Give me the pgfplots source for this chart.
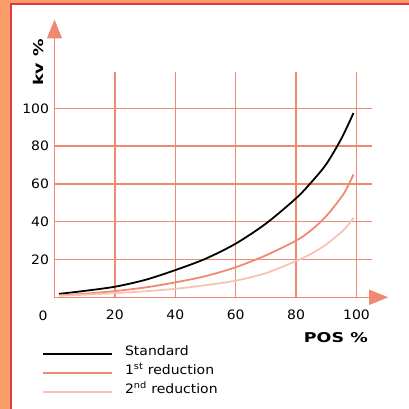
\documentclass[border=0pt]{standalone}
\usepackage{fontspec}
\setmainfont[FakeStretch=1.08]{DejaVu Sans}
\newfontfamily\labfont[FakeStretch=1.3]{DejaVu Sans Bold}
\usepackage{pgfplots}
\pgfplotsset{compat=1.18}
\usetikzlibrary{arrows.meta}
\definecolor{salmon}{HTML}{EE8A72}
\definecolor{light}{HTML}{F6C4B2}
\definecolor{border}{HTML}{F89C68}
\definecolor{redline}{HTML}{E4373F}
\begin{document}
\begin{tikzpicture}
\begin{axis}[
  x=3.02bp, y=1.89bp,
  xmin=0, xmax=105, ymin=0, ymax=119,
  axis line style={draw=none},
  clip=false,
  xtick={20,40,60,80,100},
  ytick={20,40,60,80,100},
  major tick length=0pt,
  grid=major,
  major grid style={salmon, line width=1.3bp},
  /pgf/number format/assume math mode=true,
  tick label style={font=\fontsize{13}{15}\selectfont, text=black},
  xticklabel style={yshift=-9.5bp},
  yticklabel style={xshift=-2bp},
]
\addplot[black, line width=1.8bp, smooth] coordinates {
 (1.5,1.8) (10,3.4) (20,5.6) (30,9.2) (40,14.4) (50,20.4) (60,28.4)
 (70,39.0) (80,52.4) (85,60.8) (90,70.5) (95,84.0) (99,97.5)};
\addplot[salmon, line width=1.8bp, smooth] coordinates {
 (1.5,1.0) (10,1.9) (20,3.3) (30,5.2) (40,7.9) (50,11.2) (60,15.9)
 (70,22.2) (80,30.0) (85,35.5) (90,43.0) (95,53.0) (97,58.3) (99,65.0)};
\addplot[light, line width=1.8bp, smooth] coordinates {
 (1.5,0.8) (10,1.4) (20,2.2) (30,3.2) (40,4.5) (50,6.4) (60,8.8)
 (70,12.8) (80,19.2) (85,23.0) (90,28.0) (95,34.5) (97,37.8) (99,42.1)};
% axes arrows
\draw[salmon, line width=1.3bp, -{Triangle[length=19bp,width=15bp]}] (axis cs:0,0) -- (axis cs:0,147);
\draw[salmon, line width=1.3bp, -{Triangle[length=19bp,width=15bp]}] (axis cs:0,0) -- (axis cs:110.5,0);
% zero tick label
\node[anchor=base, inner sep=0pt, font=\fontsize{13}{15}\selectfont] at (axis cs:-3.8,-12.5) {0};
% labels
\node[anchor=base east, inner sep=0pt, font=\labfont\fontsize{13.5}{15}\selectfont] at (axis cs:103.8,-24.0) {POS \%};
\node[anchor=base west, rotate=90, inner sep=0pt, font=\labfont\fontsize{13.5}{15}\selectfont] at (axis cs:-3.8,111.8) {kv \%};
% legend
\draw[black, line width=1.8bp] (axis cs:-3.8,-30.2) -- (axis cs:19,-30.2);
\draw[salmon, line width=1.8bp] (axis cs:-3.8,-40.2) -- (axis cs:19,-40.2);
\draw[light, line width=1.8bp] (axis cs:-3.8,-50.3) -- (axis cs:19,-50.3);
\node[anchor=base west, inner sep=0pt, font=\fontsize{13}{15}\selectfont] at (axis cs:23.3,-30.9) {Standard};
\node[anchor=base west, inner sep=0pt, font=\fontsize{13}{15}\selectfont] at (axis cs:23.3,-40.7) {1\textsuperscript{st} reduction};
\node[anchor=base west, inner sep=0pt, font=\fontsize{13}{15}\selectfont] at (axis cs:23.3,-50.8) {2\textsuperscript{nd} reduction};
\path (axis cs:0,0) coordinate (O);
\end{axis}
\begin{scope}[shift={(O)}, xshift=-54.5bp, yshift=297.3bp, x=1bp, y=-1bp]
\fill[border] (0,0) rectangle (10.5,409);
\fill[border] (0,0) rectangle (409,3.2);
\draw[redline, line width=2bp] (11.5,409) -- (11.5,4.2) -- (409,4.2);
\pgfresetboundingbox
\path[use as bounding box] (0,0) rectangle (409,409);
\end{scope}
\end{tikzpicture}
\end{document}
